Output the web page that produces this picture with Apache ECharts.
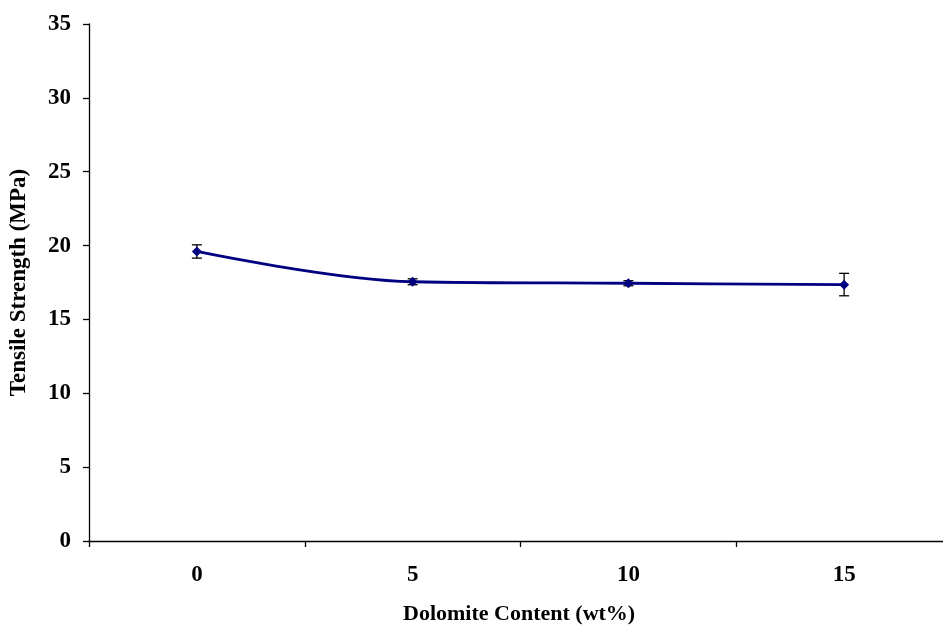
<!DOCTYPE html>
<html><head><meta charset="utf-8">
<script src="https://cdn.jsdelivr.net/npm/echarts@6/dist/echarts.min.js"></script>
<style>html,body{margin:0;padding:0;background:#fff;overflow:hidden;width:943px;height:628px}#c{width:960px;height:628px}</style>
</head><body><div id="c"></div>
<script>
const categories = ['0', '5', '10', '15'];
const strength = [19.6, 17.55, 17.45, 17.35];
const errLow = [19.15, 17.35, 17.28, 16.6];
const errHigh = [20.05, 17.75, 17.62, 18.12];
const yTicks = [0, 5, 10, 15, 20, 25, 30, 35];

const font = '"Liberation Serif","Times New Roman",serif';
const chart = echarts.init(document.getElementById('c'));
chart.setOption({
  animation: false,
  backgroundColor: '#fff',
  grid: { left: 85, width: 867, top: 24, height: 517, containLabel: false },
  xAxis: {
    type: 'category', data: categories, boundaryGap: true,
    axisLine: { lineStyle: { color: '#000', width: 1.3 } },
    axisTick: { show: true, length: 6, lineStyle: { color: '#000', width: 1.3 } },
    axisLabel: { color: '#000', fontFamily: font, fontWeight: 'bold', fontSize: 23, margin: 23 },
    splitLine: { show: false }
  },
  yAxis: {
    type: 'value', min: yTicks[0], max: yTicks[yTicks.length - 1], interval: 5,
    name: 'Tensile Strength (MPa)', nameLocation: 'middle', nameGap: 58,
    nameTextStyle: { color: '#000', fontFamily: font, fontWeight: 'bold', fontSize: 23 },
    axisLine: { show: true, lineStyle: { color: '#000', width: 1.3 } },
    axisTick: { show: true, length: 6, lineStyle: { color: '#000', width: 1.3 } },
    axisLabel: { color: '#000', fontFamily: font, fontWeight: 'bold', fontSize: 23, margin: 18 },
    splitLine: { show: false }
  },
  graphic: [{
    type: 'text', left: 403, top: 603,
    style: { text: 'Dolomite Content (wt%)', fill: '#000', font: 'bold 22px ' + font }
  }],
  series: [{
    type: 'line', data: strength, smooth: 0.35,
    lineStyle: { color: '#000080', width: 2.8 },
    itemStyle: { color: '#000080' },
    symbol: 'diamond', symbolSize: 10, z: 3
  }, {
    type: 'custom', z: 2,
    data: categories.map((c, i) => [i, errLow[i], errHigh[i]]),
    renderItem: function (params, api) {
      const x = api.coord([api.value(0), api.value(1)])[0];
      const lo = api.coord([api.value(0), api.value(1)])[1];
      const hi = api.coord([api.value(0), api.value(2)])[1];
      const w = 5;
      const st = { stroke: '#000', lineWidth: 1.3 };
      return { type: 'group', children: [
        { type: 'line', shape: { x1: x, y1: lo, x2: x, y2: hi }, style: st },
        { type: 'line', shape: { x1: x - w, y1: lo, x2: x + w, y2: lo }, style: st },
        { type: 'line', shape: { x1: x - w, y1: hi, x2: x + w, y2: hi }, style: st }
      ]};
    }
  }]
});
</script></body></html>
